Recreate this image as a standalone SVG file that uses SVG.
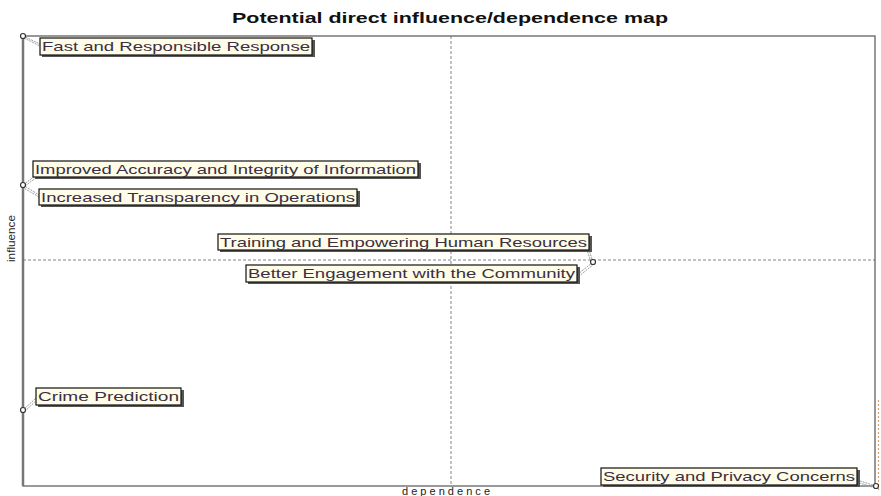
<svg xmlns="http://www.w3.org/2000/svg" width="881" height="496" viewBox="0 0 881 496">
<style>
.title{font-family:"Liberation Sans",Arial,sans-serif;font-weight:bold;font-size:14px;fill:#111}
.axis{font-family:"Liberation Sans",Arial,sans-serif;font-size:11px;fill:#222}
.lbl{font-family:"Liberation Sans",Arial,sans-serif;font-size:13px;fill:#3a2f45}
.box{fill:#fffce8;stroke:#111;stroke-width:1.2}
.shadow{fill:#555}
.pt{fill:#fff;stroke:#333;stroke-width:1.2}
.lead{stroke:#999;stroke-width:1;stroke-dasharray:2,1;fill:none}
.grid{stroke:#666;stroke-width:0.8;stroke-dasharray:3,2;fill:none}
</style>
<rect width="881" height="496" fill="#fff"/>
<text class="title" x="232" y="23" textLength="436" lengthAdjust="spacingAndGlyphs">Potential direct influence/dependence map</text>
<g id="frame">
<rect x="23" y="36" width="852" height="450" fill="none" stroke="#555" stroke-width="1.2"/>
<line x1="23" y1="36" x2="23" y2="486" stroke="#777" stroke-width="2.5"/>
<line class="grid" x1="451" y1="36" x2="451" y2="486"/>
<line class="grid" x1="23" y1="260" x2="875" y2="260"/>
<line x1="878.5" y1="400" x2="878.5" y2="490" stroke="#d9a070" stroke-width="1.2" stroke-dasharray="2,2"/>
<text class="axis" x="402" y="495" textLength="88" lengthAdjust="spacing">dependence</text>
<text class="axis" transform="translate(15,262) rotate(-90)" textLength="47" lengthAdjust="spacingAndGlyphs">influence</text>
</g>
<g id="connectors">
<path class="lead" d="M23,36 L40,44 M24,38 L40,46"/>
<path class="lead" d="M23,185 L35,176 M25,186 L37,177"/>
<path class="lead" d="M23,185 L39,195 M22,187 L39,197"/>
<path class="lead" d="M593,262 L589,250 M591,262 L587,250"/>
<path class="lead" d="M593,262 L577,275 M594,264 L578,277"/>
<path class="lead" d="M23,410 L36,398 M25,411 L38,399"/>
<path class="lead" d="M876,486 L857,480 M875,488 L857,482"/>
</g>
<g id="n1">
<rect class="shadow" x="42" y="40" width="273" height="17"/>
<rect class="box" x="40" y="38" width="272" height="17"/>
<text class="lbl" x="42" y="51" textLength="268" lengthAdjust="spacingAndGlyphs">Fast and Responsible Response</text>
<circle class="pt" cx="23" cy="36" r="2.5"/>
</g>
<g id="n2">
<rect class="shadow" x="35" y="163" width="386" height="16"/>
<rect class="box" x="33" y="161" width="385" height="16"/>
<text class="lbl" x="35" y="174" textLength="381" lengthAdjust="spacingAndGlyphs">Improved Accuracy and Integrity of Information</text>
</g>
<g id="n3">
<rect class="shadow" x="41" y="191" width="319" height="16"/>
<rect class="box" x="39" y="189" width="318" height="16"/>
<text class="lbl" x="41" y="202" textLength="314" lengthAdjust="spacingAndGlyphs">Increased Transparency in Operations</text>
<circle class="pt" cx="23" cy="185" r="2.5"/>
</g>
<g id="n4">
<rect class="shadow" x="220" y="236" width="372" height="16"/>
<rect class="box" x="218" y="234" width="371" height="16"/>
<text class="lbl" x="220" y="247" textLength="367" lengthAdjust="spacingAndGlyphs">Training and Empowering Human Resources</text>
</g>
<g id="n5">
<rect class="shadow" x="248" y="267" width="332" height="17"/>
<rect class="box" x="246" y="265" width="331" height="17"/>
<text class="lbl" x="248" y="278" textLength="327" lengthAdjust="spacingAndGlyphs">Better Engagement with the Community</text>
<circle class="pt" cx="593" cy="262" r="2.5"/>
</g>
<g id="n6">
<rect class="shadow" x="38" y="390" width="146" height="17"/>
<rect class="box" x="36" y="388" width="145" height="17"/>
<text class="lbl" x="38" y="401" textLength="141" lengthAdjust="spacingAndGlyphs">Crime Prediction</text>
<circle class="pt" cx="23" cy="410" r="2.5"/>
</g>
<g id="n7">
<rect class="shadow" x="603" y="470" width="257" height="17"/>
<rect class="box" x="601" y="468" width="256" height="17"/>
<text class="lbl" x="603" y="481" textLength="252" lengthAdjust="spacingAndGlyphs">Security and Privacy Concerns</text>
<circle class="pt" cx="876" cy="486" r="2.5"/>
</g>
</svg>
